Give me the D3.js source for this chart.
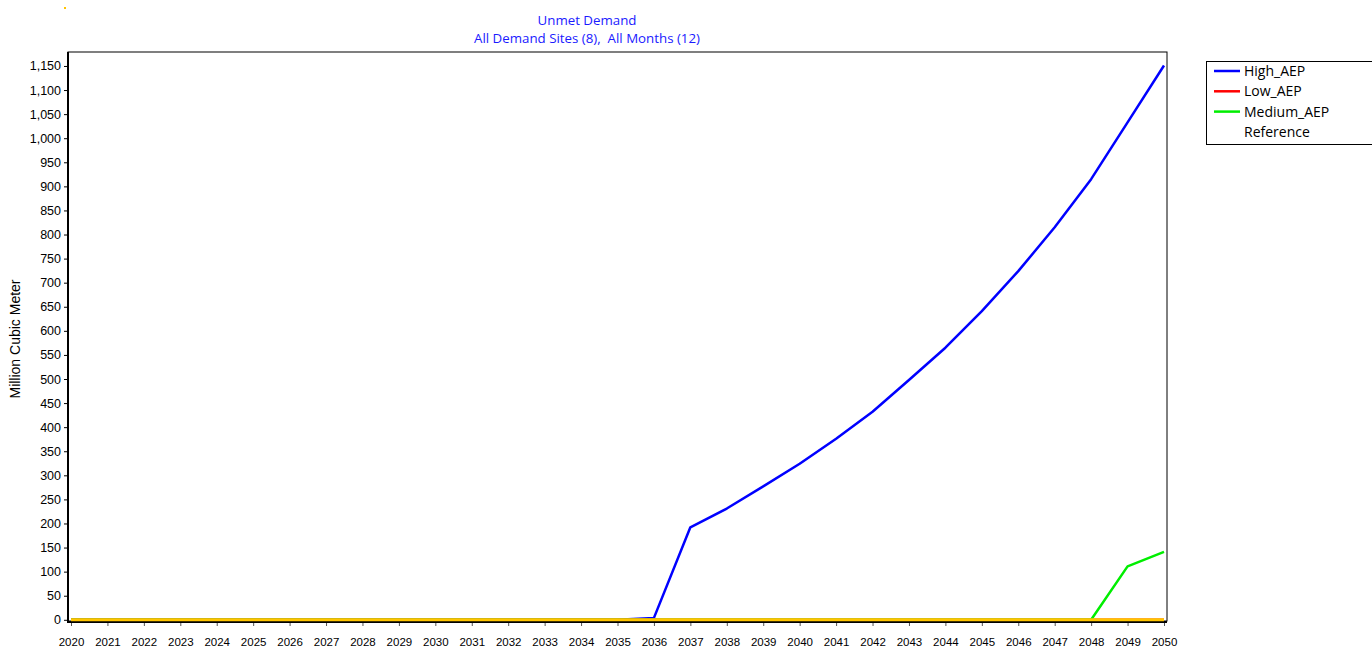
<!DOCTYPE html>
<html>
<head>
<meta charset="utf-8">
<script src="https://cdn.jsdelivr.net/npm/d3@7"></script>
<style>
  body { margin: 0; background: #fff; }
  svg { display: block; }
  .tick text { font-family: "Liberation Sans", Arial, sans-serif; fill: #000; }
</style>
</head>
<body>
<svg id="chart" width="1372" height="652"></svg>
<script>
// data
const years = d3.range(2020, 2051)
const highAEP = [0, 0, 0, 0, 0, 0, 0, 0, 0, 0, 0, 0, 0, 0, 0, 0, 4, 192, 231, 277, 324, 376, 432, 498, 565, 641, 724, 815, 915, 1033, 1151]
const lowAEP = years.map(() => 0)
const mediumAEP = [0, 0, 0, 0, 0, 0, 0, 0, 0, 0, 0, 0, 0, 0, 0, 0, 0, 0, 0, 0, 0, 0, 0, 0, 0, 0, 0, 0, 0, 111, 141]
const reference = years.map(() => 0)
const yTicks = d3.range(0, 1151, 50)

const seriesList = [
  { name: 'High_AEP', values: highAEP, color: '#0000ff', inLegend: true },
  { name: 'Low_AEP', values: lowAEP, color: '#ff0000', inLegend: true },
  { name: 'Medium_AEP', values: mediumAEP, color: '#00ee00', inLegend: true },
  { name: 'Reference', values: reference, color: '#ffc400', inLegend: false }
]

const plot = { left: 68, top: 52, right: 1167, bottom: 621 }
const svg = d3.select('#chart')

const x = d3.scaleLinear().domain([2020, 2050]).range([71, 1164])
const y = d3.scaleLinear().domain([0, 1179]).range([619.8, plot.top])

// title
const title = svg.append('g')
  .attr('font-family', '"Open Sans", "Noto Sans", sans-serif')
  .attr('font-size', 13.3)
  .attr('fill', '#1a1aff')
  .attr('text-anchor', 'middle')
title.append('text').attr('x', 587).attr('y', 25).text('Unmet Demand')
title.append('text').attr('x', 587).attr('y', 43).text('All Demand Sites (8),\u00a0 All Months (12)')

// plot frame (top and right thin)
svg.append('rect')
  .attr('x', plot.left).attr('y', plot.top)
  .attr('width', plot.right - plot.left).attr('height', plot.bottom - plot.top)
  .attr('fill', 'none').attr('stroke', '#000').attr('stroke-width', 1)

// axes
const yAxis = d3.axisLeft(y).tickValues(yTicks).tickSize(4).tickPadding(3)
  .tickFormat(d3.format(','))
const yG = svg.append('g').attr('transform', `translate(${plot.left},0)`).call(yAxis)
yG.select('.domain').remove()
yG.selectAll('.tick line').attr('stroke', '#000')
yG.selectAll('.tick text').attr('font-size', 12.5)

const xAxis = d3.axisBottom(x).tickValues(years).tickSize(5).tickPadding(12)
  .tickFormat(d3.format('d'))
const xG = svg.append('g').attr('transform', `translate(0,${plot.bottom})`).call(xAxis)
xG.select('.domain').remove()
xG.selectAll('.tick line').attr('stroke', '#555')
xG.selectAll('.tick text').attr('font-size', 11.5)

// y label
svg.append('text')
  .attr('transform', 'translate(20,339) rotate(-90)')
  .attr('text-anchor', 'middle')
  .attr('font-family', '"Liberation Sans", Arial, sans-serif')
  .attr('font-size', 14)
  .text('Million Cubic Meter')

// thick left and bottom axis lines
svg.append('line').attr('x1', plot.left).attr('x2', plot.left)
  .attr('y1', plot.top).attr('y2', plot.bottom + 2)
  .attr('stroke', '#000').attr('stroke-width', 2)
svg.append('line').attr('x1', plot.left).attr('x2', plot.right)
  .attr('y1', plot.bottom + 1).attr('y2', plot.bottom + 1)
  .attr('stroke', '#000').attr('stroke-width', 2)

// series lines
const line = d3.line()
  .x((d, i) => x(years[i]))
  .y(d => y(d))

svg.append('g').selectAll('path')
  .data(seriesList)
  .join('path')
  .attr('d', d => line(d.values))
  .attr('fill', 'none')
  .attr('stroke', d => d.color)
  .attr('stroke-width', d => d.name === 'Reference' ? 3 : 2.5)
  .attr('stroke-linejoin', 'round')

// legend
const legend = svg.append('g').attr('transform', 'translate(1206,61)')
legend.append('rect')
  .attr('x', 0.5).attr('y', 0.5).attr('width', 170).attr('height', 83)
  .attr('fill', '#fff').attr('stroke', '#000')
const rows = legend.selectAll('g.row')
  .data(seriesList)
  .join('g')
  .attr('class', 'row')
  .attr('transform', (d, i) => `translate(0,${10 + i * 20.3})`)
rows.filter(d => d.inLegend).append('line')
  .attr('x1', 8).attr('x2', 34)
  .attr('stroke', d => d.color).attr('stroke-width', 2.5)
rows.append('text')
  .attr('x', 38).attr('dy', '0.35em')
  .attr('font-family', '"Open Sans", "Noto Sans", sans-serif')
  .attr('font-size', 14)
  .text(d => d.name)

// small yellow mark in the top left corner
svg.append('rect').attr('x', 64).attr('y', 7).attr('width', 2).attr('height', 2).attr('fill', '#ffc400')
</script>
</body>
</html>
